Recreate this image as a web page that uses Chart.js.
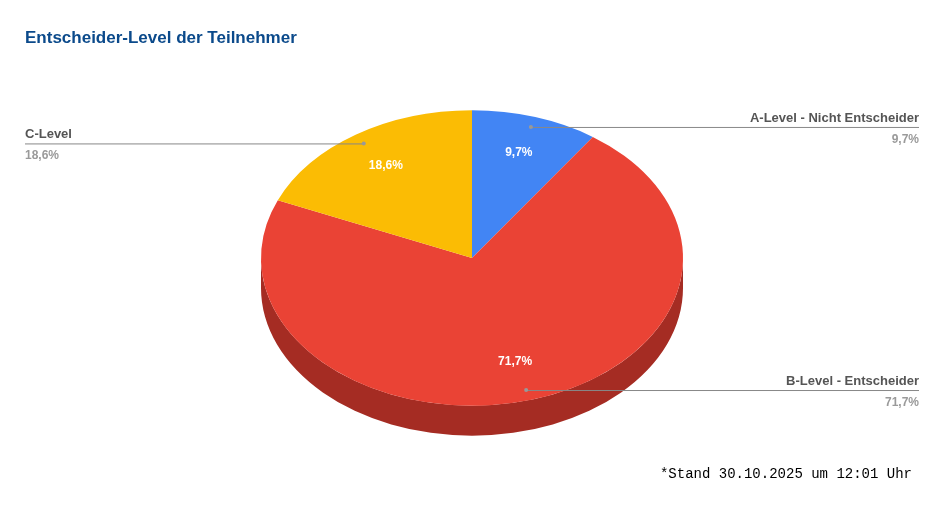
<!DOCTYPE html>
<html lang="de">
<head>
<meta charset="UTF-8">
<title>Entscheider-Level der Teilnehmer</title>
<script src="https://cdn.jsdelivr.net/npm/chart.js"></script>
<style>
  body { margin: 0; background: #fff; }
  canvas { display: block; }
</style>
</head>
<body>
<canvas id="pie" width="944" height="510"></canvas>
<script>
// Daten
const labels = ['A-Level - Nicht Entscheider', 'B-Level - Entscheider', 'C-Level'];
const values = [9.7, 71.7, 18.6];
const colors = ['#4285f4', '#ea4335', '#fbbc04'];
const sideColors = ['#2f5fb0', '#a52c23', '#b88a02'];

const squash = 0.70;   // Ellipse: vertikal gestaucht
const depth = 30;      // Höhe der Seitenfläche in Pixel

function fmt(v) { return v.toFixed(1).replace('.', ',') + '%'; }

// Pseudo-3D: Torte stauchen und Seitenfläche zeichnen
const tiltPlugin = {
    id: 'tilt',
    beforeDatasetsDraw(chart) {
        const ctx = chart.ctx;
        const arcs = chart.getDatasetMeta(0).data;
        const cx = arcs[0].x, cy = arcs[0].y;
        ctx.save();
        ctx.translate(cx, cy);
        ctx.scale(1, squash);
        ctx.translate(-cx, -cy);
        const d = depth / squash;
        arcs.forEach((arc, i) => {
            const a = Math.max(arc.startAngle, 0);
            const b = Math.min(arc.endAngle, Math.PI);
            if (b <= a) return;
            ctx.beginPath();
            ctx.arc(cx, cy, arc.outerRadius, a, b);
            ctx.arc(cx, cy + d, arc.outerRadius, b, a, true);
            ctx.closePath();
            ctx.fillStyle = sideColors[i];
            ctx.fill();
        });
    },
    afterDatasetsDraw(chart) {
        chart.ctx.restore();
    },
    afterDraw(chart) {
        const ctx = chart.ctx;
        const arcs = chart.getDatasetMeta(0).data;
        const W = chart.width;

        // Titel
        ctx.save();
        ctx.fillStyle = '#0b4a8b';
        ctx.font = 'bold 17px "Liberation Sans", Arial, sans-serif';
        ctx.textBaseline = 'alphabetic';
        ctx.fillText('Entscheider-Level der Teilnehmer', 25, 43);

        arcs.forEach((arc, i) => {
            const mid = (arc.startAngle + arc.endAngle) / 2;
            const r = arc.outerRadius;
            const px = (f) => arc.x + Math.cos(mid) * r * f;
            const py = (f) => arc.y + Math.sin(mid) * r * f * squash;

            // Wert im Segment
            ctx.fillStyle = '#ffffff';
            ctx.font = 'bold 12px "Liberation Sans", Arial, sans-serif';
            ctx.textAlign = 'center';
            ctx.textBaseline = 'middle';
            ctx.fillText(fmt(values[i]), px(0.74), py(0.74) - 1);

            // Führungslinie
            const dx = px(0.93), dy = py(0.93);
            const right = Math.cos(mid) >= 0;
            const ex = right ? W - 25 : 25;
            ctx.strokeStyle = '#888888';
            ctx.lineWidth = 1;
            ctx.beginPath();
            ctx.moveTo(dx, dy + 0.5);
            ctx.lineTo(ex, dy + 0.5);
            ctx.stroke();
            ctx.fillStyle = '#999999';
            ctx.beginPath();
            ctx.arc(dx, dy, 2, 0, Math.PI * 2);
            ctx.fill();

            ctx.textAlign = right ? 'right' : 'left';
            ctx.textBaseline = 'alphabetic';
            ctx.fillStyle = '#555555';
            ctx.font = 'bold 13px "Liberation Sans", Arial, sans-serif';
            ctx.fillText(labels[i], ex, dy - 5);
            ctx.fillStyle = '#9a9a9a';
            ctx.font = 'bold 12px "Liberation Sans", Arial, sans-serif';
            ctx.fillText(fmt(values[i]), ex, dy + 16);
        });

        // Fußnote
        ctx.fillStyle = '#000000';
        ctx.font = '14px "Liberation Mono", "DejaVu Sans Mono", monospace';
        ctx.textAlign = 'right';
        ctx.fillText('*Stand 30.10.2025 um 12:01 Uhr', 912, 478);
        ctx.restore();
    }
};

new Chart(document.getElementById('pie'), {
    type: 'pie',
    data: {
        labels: labels,
        datasets: [{
            data: values,
            backgroundColor: colors,
            borderWidth: 0
        }]
    },
    options: {
        responsive: false,
        maintainAspectRatio: false,
        animation: false,
        devicePixelRatio: 1,
        layout: { padding: { top: 47, bottom: 41, left: 261, right: 261 } },
        plugins: {
            legend: { display: false },
            tooltip: { enabled: false },
            title: { display: false }
        }
    },
    plugins: [tiltPlugin]
});
</script>
</body>
</html>
